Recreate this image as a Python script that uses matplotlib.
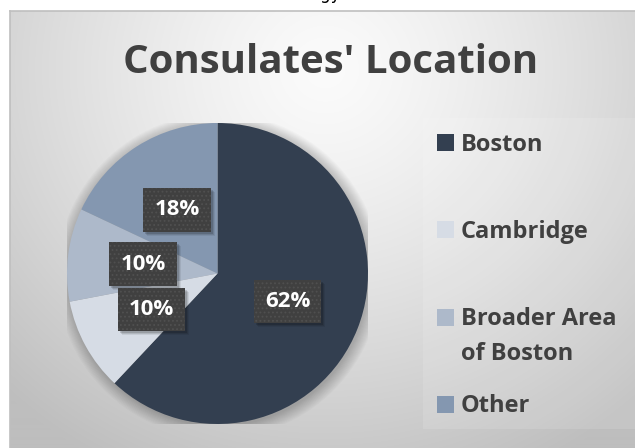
import numpy as np
import matplotlib
matplotlib.use("Agg")
import matplotlib.pyplot as plt
from matplotlib.patches import Rectangle, Circle

# ---- data ----
categories = ["Boston", "Cambridge", "Broader Area\nof Boston", "Other"]
values = [62, 10, 10, 18]
colors = ["#333F50", "#D6DCE5", "#ADB9CA", "#8497B0"]
title = "Consulates' Location"

W, H = 635, 448
DPI = 100
plt.rcParams['font.family'] = ['Open Sans', 'DejaVu Sans']
plt.rcParams['hatch.linewidth'] = 0.8

fig = plt.figure(figsize=(W / DPI, H / DPI), dpi=DPI)
fig.patch.set_facecolor("white")

def px(x, y):
    return x / W, 1 - y / H

# ---- background (chart area) ----
bx0, by0 = 10, 11
bg = fig.add_axes([bx0 / W, 0, 1 - bx0 / W, 1 - by0 / H], zorder=0)
gw, gh = W - bx0, H - by0
yy, xx = np.mgrid[0:gh, 0:gw]
xx = xx + bx0
yy = yy + by0
d = np.sqrt((xx - 325) ** 2 + ((yy - 70) * 1.05) ** 2) / 430.0
v = 251 - (251 - 196) * np.clip(d, 0, 1.2) ** 1.3
v = np.clip(v, 190, 252) / 255.0
img = np.dstack([v, v, v])
bg.imshow(img, extent=[0, 1, 0, 1], aspect='auto', origin='upper')
bg.set_xlim(0, 1)
bg.set_ylim(0, 1)
bg.set_xticks([])
bg.set_yticks([])
for s in ["right", "bottom"]:
    bg.spines[s].set_visible(False)
for s in ["left", "top"]:
    bg.spines[s].set_color("#BFBFBF")
    bg.spines[s].set_linewidth(1.2)

# legend light box
lx0, ly0, ly1 = 423, 118, 429
bg.add_patch(Rectangle(((lx0 - bx0) / gw, 1 - (ly1 - by0) / gh),
                       1.0, (ly1 - ly0) / gh, transform=bg.transAxes,
                       facecolor="white", alpha=0.12, edgecolor="none"))

# cut-off text of the surrounding document at the top
fig.text(325 / W, 1 + 1.0 / H, "ogy", ha="center", va="baseline",
         fontsize=12, color="black", family="DejaVu Sans")

# ---- title ----
fig.text(331 / W, 1 - 62 / H, title, ha="center", va="center",
         fontsize=29, fontweight="bold", color="#404040", zorder=5)

# ---- pie ----
cx, cy, r = 217.5, 273.5, 150.5
ax = fig.add_axes([(cx - r) / W, (H - cy - r) / H, 2 * r / W, 2 * r / H], zorder=2)

# soft shadow
for i in range(12):
    ax.add_patch(Circle((0.01, -0.015), 1.0 + 0.007 * i, facecolor="black",
                        alpha=0.02, edgecolor="none", zorder=0))

wedges, texts, autotexts = ax.pie(
    values, colors=colors, startangle=90, counterclock=False,
    autopct=lambda p: f"{p:.0f}%", pctdistance=0.5,
    wedgeprops=dict(linewidth=0, edgecolor="none"),
    textprops=dict(color="white", fontsize=16, fontweight="bold"))
ax.set_xlim(-1, 1)
ax.set_ylim(-1, 1)
ax.set_aspect("auto")
ax.axis("off")

for t in autotexts:
    t.set_bbox(dict(boxstyle="square,pad=0.5", facecolor="#404040",
                    edgecolor="#505050", linewidth=0, hatch="...."))
    t.set_zorder(6)

# label box shadows (behind the labels, above the wedges)
fig.canvas.draw()
inv = ax.transData.inverted()
for t in autotexts:
    bb = t.get_bbox_patch().get_window_extent()
    for dx, a in [(4, 0.07), (3, 0.10), (2, 0.14)]:
        (x0, y0), (x1, y1) = inv.transform([(bb.x0 + dx, bb.y0 - dx),
                                            (bb.x1 + dx, bb.y1 - dx)])
        ax.add_patch(Rectangle((x0, y0), x1 - x0, y1 - y0, facecolor="black",
                               alpha=a, edgecolor="none", zorder=4))

# ---- legend ----
leg_ys = [143, 230, 317, 404]
for cat, col, ly in zip(categories, colors, leg_ys):
    x0, y0 = px(437, ly + 8.5)
    fig.patches.append(Rectangle((x0, y0), 17 / W, 17 / H, transform=fig.transFigure,
                                 facecolor=col, edgecolor="none", zorder=5))
    fig.text(461 / W, 1 - (ly - 10) / H, cat, ha="left", va="top",
             fontsize=17, fontweight="bold", color="#404040",
             linespacing=1.62, zorder=5)

fig.savefig("out.png", dpi=DPI)
